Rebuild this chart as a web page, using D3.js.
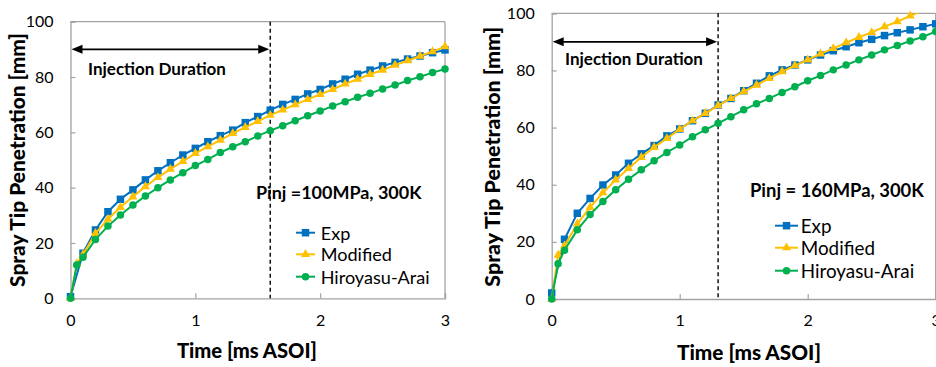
<!DOCTYPE html>
<html><head><meta charset="utf-8">
<script src="https://cdn.jsdelivr.net/npm/d3@7"></script>
<style>
body{margin:0;background:#fff;}
svg{display:block;background:#fff;}
text{font-family:Lato,'Open Sans',sans-serif;fill:#000;}
</style>
</head><body>
<svg id="c" width="936" height="367"></svg>
<script>
// ---------- data ----------
const timeExp = [0,0.1,0.2,0.3,0.4,0.5,0.6,0.7,0.8,0.9,1.0,1.1,1.2,1.3,1.4,1.5,1.6,1.7,1.8,1.9,2.0,2.1,2.2,2.3,2.4,2.5,2.6,2.7,2.8,2.9,3.0];
const timeModel = [0,0.05,0.1,0.2,0.3,0.4,0.5,0.6,0.7,0.8,0.9,1.0,1.1,1.2,1.3,1.4,1.5,1.6,1.7,1.8,1.9,2.0,2.1,2.2,2.3,2.4,2.5,2.6,2.7,2.8,2.9,3.0];

// Panel A: Pinj = 100 MPa
const expA  = [0.6,16.3,24.7,31.3,35.8,39.2,42.8,46.1,49.0,51.8,54.2,56.6,58.8,60.8,63.5,65.7,68.0,70.1,71.9,73.9,75.5,77.5,79.2,81.0,82.5,84.0,85.3,86.5,87.6,88.8,89.8];
const modA  = [0,12.5,15.8,23.5,28.6,32.9,36.7,40.4,43.7,46.7,49.5,52.4,54.8,57.2,59.6,61.8,64.0,66.2,68.1,70.0,71.9,73.7,75.5,77.5,79.2,81.0,82.5,84.3,85.9,87.6,89.2,91.0];
const hiroA = [0,12.0,14.8,21.3,26.1,30.1,33.7,37.0,40.0,42.8,45.4,48.0,50.2,52.7,54.8,56.6,58.7,60.6,62.4,64.2,66.0,67.7,69.5,71.1,72.7,74.1,75.7,77.1,78.7,80.1,81.6,82.9];

// Panel B: Pinj = 160 MPa
const expB  = [2.1,20.9,30.0,35.2,39.9,43.4,47.5,50.8,53.7,57.1,59.5,62.4,65.0,67.9,70.2,72.9,75.5,78.1,80.2,81.9,83.7,85.4,86.9,88.3,89.7,90.9,92.2,93.2,94.2,95.3,96.3];
const modB  = [0,15.4,18.6,26.3,32.1,37.2,41.7,45.7,49.6,53.1,56.2,59.4,62.4,65.0,67.7,70.2,72.6,74.9,77.2,79.6,81.7,83.7,85.8,87.7,89.7,91.6,93.3,95.3,97.1,99.1,100.9,102.6];
const hiroB = [0,12.3,17.1,24.2,29.6,34.1,38.2,41.9,45.2,48.4,51.3,53.9,56.8,59.2,61.5,63.8,66.2,68.3,70.2,72.3,74.3,76.4,78.2,80.2,81.9,83.7,85.4,87.2,88.7,90.3,91.8,93.6];

const seriesNames = ["Exp","Modified","Hiroyasu-Arai"];
const seriesColors = ["#0070C0","#FFC000","#00B050"];
const xTicks = [0,1,2,3];
const yTicks = [0,20,40,60,80,100];
const xDomain = [0,3];
const yDomain = [0,100];
const xTitle = "Time [ms ASOI]";
const yTitle = "Spray Tip Penetration [mm]";
const injLabel = "Injection Duration";
const conditionA = "Pinj =100MPa, 300K";
const conditionB = "Pinj = 160MPa, 300K";
const injDurA = 1.6, injDurB = 1.3;
const arrowLevel = 90;

// ---------- drawing ----------
const svg = d3.select("#c");

function fit(t, w){
  t.style("font-size","20px");
  const l = t.node().getComputedTextLength();
  const fs = 20*w/l;
  t.style("font-size", fs+"px");
  return fs;
}

function panel(cfg, id){
  const x = d3.scaleLinear().domain(xDomain).range([cfg.x0, cfg.x1]);
  const y = d3.scaleLinear().domain(yDomain).range([cfg.yBot, cfg.yTop]);
  const g = svg.append("g");
  const frameCol = "#a3a3a3";

  svg.append("clipPath").attr("id","clip"+id).append("rect")
    .attr("x", cfg.x0-10).attr("y", y(100)).attr("width", cfg.x1-cfg.x0+20).attr("height", cfg.yBot-y(100)+10);

  g.append("line").attr("x1",x(0)).attr("x2",x(3)).attr("y1",y(100)).attr("y2",y(100)).attr("stroke",frameCol).attr("stroke-width",1.3);
  g.append("line").attr("x1",x(3)).attr("x2",x(3)).attr("y1",y(100)).attr("y2",y(0)).attr("stroke",frameCol).attr("stroke-width",1.3);

  const ya = d3.axisLeft(y).tickValues(yTicks).tickSize(-5).tickPadding(17).tickFormat(d3.format("d"));
  const xa = d3.axisBottom(x).tickValues(xTicks).tickSize(-5).tickPadding(17).tickFormat(d3.format("d"));
  const gy = g.append("g").attr("transform",`translate(${cfg.x0},0)`).call(ya);
  const gx = g.append("g").attr("transform",`translate(0,${cfg.yBot})`).call(xa);
  [gx,gy].forEach(a=>{
    a.select(".domain").attr("stroke",frameCol).attr("stroke-width",1.3);
    a.selectAll(".tick line").attr("stroke",frameCol).attr("stroke-width",1.2);
    a.selectAll(".tick text").style("font-family","Lato, sans-serif").style("font-size","16px").attr("fill","#1a1a1a");
  });
  gx.selectAll(".tick text").attr("dy","0.71em").attr("y", 16);

  g.append("line").attr("x1",x(cfg.inj)).attr("x2",x(cfg.inj)).attr("y1",y(100)).attr("y2",y(0))
    .attr("stroke","#000").attr("stroke-width",1.4).attr("stroke-dasharray","4,3");

  const ay = y(arrowLevel);
  const ax0 = x(0)+1, ax1 = x(cfg.inj)-1;
  g.append("line").attr("x1",ax0+6).attr("x2",ax1-6).attr("y1",ay).attr("y2",ay).attr("stroke","#000").attr("stroke-width",1.6);
  g.append("path").attr("d",`M${ax0},${ay} L${ax0+11},${ay-4.5} L${ax0+11},${ay+4.5} Z`).attr("fill","#000");
  g.append("path").attr("d",`M${ax1},${ay} L${ax1-11},${ay-4.5} L${ax1-11},${ay+4.5} Z`).attr("fill","#000");

  const it = g.append("text").text(injLabel).attr("x",cfg.injX).attr("y",cfg.injY)
    .attr("dominant-baseline","central").style("font-weight","bold").attr("fill","#222");
  fit(it, cfg.injW);

  const ct = g.append("text").text(cfg.cond).attr("x",cfg.condX).attr("y",cfg.condY)
    .attr("dominant-baseline","central").style("font-weight","bold").attr("fill","#222");
  fit(ct, cfg.condW);

  const xt = g.append("text").text(xTitle).attr("x",cfg.xtX).attr("y",cfg.xtY).attr("text-anchor","middle")
    .attr("dominant-baseline","central").style("font-weight","900").attr("fill","#222");
  fit(xt, cfg.xtW);
  const yt = g.append("text").text(yTitle).attr("transform",`translate(${cfg.ytX},${cfg.ytY}) rotate(-90)`)
    .attr("text-anchor","middle").attr("dominant-baseline","central").style("font-weight","900").attr("fill","#222");
  fit(yt, cfg.ytW);

  const series = [
    {t: timeExp, v: cfg.exp, c: seriesColors[0], m: "square"},
    {t: timeModel, v: cfg.mod, c: seriesColors[1], m: "triangle"},
    {t: timeModel, v: cfg.hiro, c: seriesColors[2], m: "circle"}
  ];
  const line = d3.line().x(d=>x(d[0])).y(d=>y(d[1]));
  const sym = {
    square: d3.symbol().type(d3.symbolSquare).size(56),
    triangle: d3.symbol().type(d3.symbolTriangle).size(36),
    circle: d3.symbol().type(d3.symbolCircle).size(44)
  };
  series.forEach(s=>{
    const pts = s.t.map((t,i)=>[t, s.v[i]]);
    g.append("path").datum(pts).attr("d",line).attr("fill","none").attr("stroke",s.c).attr("stroke-width",2)
      .attr("clip-path",`url(#clip${id})`);
    g.append("g").selectAll("path").data(pts.filter(p=>p[1]<=100)).join("path")
      .attr("transform",p=>`translate(${x(p[0])},${y(p[1])})`).attr("d",sym[s.m]()).attr("fill",s.c);
  });

  const lg = g.append("g");
  const hiroText = lg.append("text").text(seriesNames[2]).attr("x",cfg.legTextX).attr("y",cfg.legRows[2]).attr("dominant-baseline","central").attr("fill","#222");
  const fs = fit(hiroText, cfg.legW);
  series.forEach((s,i)=>{
    const ry = cfg.legRows[i];
    lg.append("line").attr("x1",cfg.legL0).attr("x2",cfg.legL1).attr("y1",ry).attr("y2",ry).attr("stroke",s.c).attr("stroke-width",2);
    lg.append("path").attr("transform",`translate(${(cfg.legL0+cfg.legL1)/2},${ry})`).attr("d",sym[s.m]()).attr("fill",s.c);
    if(i<2) lg.append("text").text(seriesNames[i]).attr("x",cfg.legTextX).attr("y",ry).attr("dominant-baseline","central")
      .style("font-size",fs+"px").attr("fill","#222");
  });
}

panel({x0:70.5,x1:445,yTop:21.7,yBot:298.3, inj:injDurA, exp:expA, mod:modA, hiro:hiroA,
  injX:88, injY:68, injW:138, cond:conditionA, condX:256, condY:191.7, condW:165.7,
  xtX:247, xtY:350, xtW:140, ytX:16.5, ytY:160, ytW:254,
  legRows:[232.7,254.3,276.7], legL0:296, legL1:315, legTextX:320.7, legW:109}, "A");

panel({x0:551.7,x1:935.7,yTop:13.3,yBot:299, inj:injDurB, exp:expB, mod:modB, hiro:hiroB,
  injX:565, injY:58.3, injW:138, cond:conditionB, condX:750, condY:190, condW:174,
  xtX:749, xtY:351.7, xtW:144, ytX:491.7, ytY:156.7, ytW:260,
  legRows:[225.7,247.7,270.7], legL0:775, legL1:798, legTextX:800.7, legW:113.6}, "B");
</script>
</body></html>
